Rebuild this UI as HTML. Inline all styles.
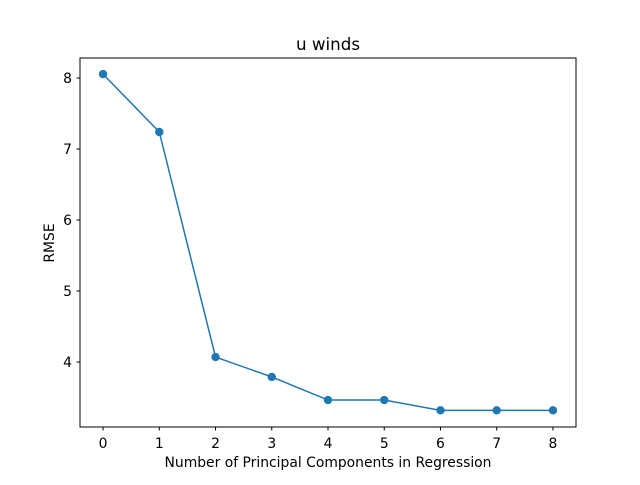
<!DOCTYPE html>
<html><head><meta charset="utf-8"><style>
body{margin:0;background:#fff;font-family:"Liberation Sans","DejaVu Sans",sans-serif}
svg text{font-family:"DejaVu Sans","Liberation Sans",sans-serif}
</style></head><body>
<svg id="chart" width="640" height="480" xmlns="http://www.w3.org/2000/svg">
<rect width="640" height="480" fill="#fff"/>
<text x="328" y="50" text-anchor="middle" font-size="16.7">u winds</text>
<text x="328" y="467" text-anchor="middle" font-size="13.9">Number of Principal Components in Regression</text>
<text transform="translate(54,243) rotate(-90)" text-anchor="middle" font-size="13.9">RMSE</text>
<g id="ticks"></g>
<g id="series"></g>
<rect x="80" y="58" width="496" height="369" fill="none" stroke="#000" stroke-width="1"/>
</svg>
<script>
const categories=[0,1,2,3,4,5,6,7,8];
const rmseValues=[8.055,7.24,4.07,3.79,3.465,3.465,3.32,3.32,3.32];
const yTickLabels=[4,5,6,7,8];
const xTickLabels=[0,1,2,3,4,5,6,7,8];
const NS="http://www.w3.org/2000/svg";
const xMin=-0.41,xMax=8.41,yMin=3.085,yMax=8.282;
function xs(v){return 80+(v-xMin)/(xMax-xMin)*496;}
function ys(v){return 427-(v-yMin)/(yMax-yMin)*369;}
const tg=document.getElementById('ticks'),sg=document.getElementById('series');
function mk(t,a,p){const e=document.createElementNS(NS,t);for(const k in a)e.setAttribute(k,a[k]);p.appendChild(e);return e;}
xTickLabels.forEach(v=>{const x=xs(v);
const l=mk('line',{x1:x,x2:x,y1:427,y2:430.5,stroke:'#000'},tg);


const t=mk('text',{x:x,y:448,'text-anchor':'middle','font-size':13.9},tg);t.textContent=v;

});
yTickLabels.forEach(v=>{const y=ys(v);
const l=mk('line',{x1:76.5,x2:80,y1:y,y2:y,stroke:'#000'},tg);


const t=mk('text',{x:72,y:y+5,'text-anchor':'end','font-size':13.9},tg);t.textContent=v;

});
const pts=categories.map((c,i)=>xs(c)+','+ys(rmseValues[i])).join(' ');
const pl=mk('polyline',{points:pts,fill:'none',stroke:'#1f77b4','stroke-width':1.5},sg);


categories.forEach((c,i)=>{const p=mk('circle',{cx:xs(c),cy:ys(rmseValues[i]),r:4.2,fill:'#1f77b4'},sg);

});
</script>
</body></html>
